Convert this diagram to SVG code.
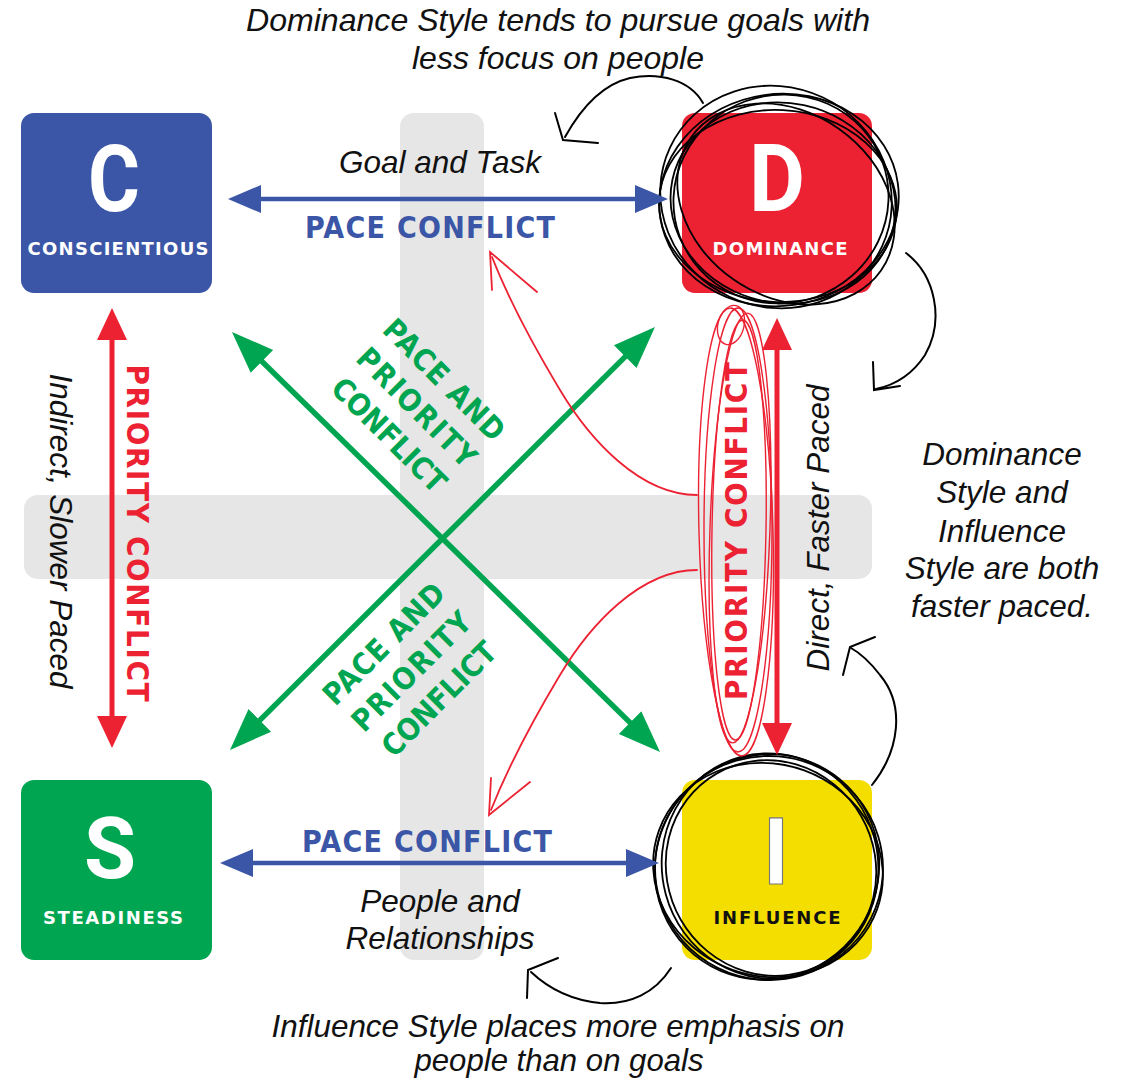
<svg xmlns="http://www.w3.org/2000/svg" width="1127" height="1081" viewBox="0 0 1127 1081">
<style>
.band{fill:#e6e6e6}
.box-letter{font-family:Roboto,'DejaVu Sans',sans-serif;font-weight:bold;text-anchor:middle}
.box-label{font-family:'DejaVu Sans',sans-serif;font-weight:bold;font-size:18px;text-anchor:middle}
.lbl{font-family:'DejaVu Sans Condensed','DejaVu Sans',sans-serif;font-stretch:condensed;font-weight:bold;text-anchor:middle}
.note{font-family:'Liberation Sans',Arial,sans-serif;font-style:italic;font-size:31.5px;fill:#111;text-anchor:middle}
.blue{stroke:#3b56a6;stroke-width:4.5;fill:none}
.red{stroke:#ec2233;stroke-width:5;fill:none}
.green{stroke:#00a551;stroke-width:5.5;fill:none}
.scrib{stroke:#000;stroke-width:1.8;fill:none}
.rscrib{stroke:#ec2233;stroke-width:1.4;fill:none}
.callout{stroke:#000;stroke-width:2;fill:none;stroke-linecap:round}
.rcallout{stroke:#ec2233;stroke-width:1.8;fill:none;stroke-linecap:round}
</style>
<defs>
<marker id="mBlue" markerUnits="userSpaceOnUse" viewBox="0 -15 33 30" markerWidth="33" markerHeight="30" refX="8" refY="0" orient="auto-start-reverse"><path d="M0,-14 L33,0 L0,14 z" fill="#3b56a6"/></marker>
<marker id="mRed" markerUnits="userSpaceOnUse" viewBox="0 -16 32 32" markerWidth="32" markerHeight="32" refX="8" refY="0" orient="auto-start-reverse"><path d="M0,-15 L32,0 L0,15 z" fill="#ec2233"/></marker>
<marker id="mGreen" markerUnits="userSpaceOnUse" viewBox="0 -17 42 34" markerWidth="42" markerHeight="34" refX="10" refY="0" orient="auto-start-reverse"><path d="M0,-16 L42,0 L0,16 z" fill="#00a551"/></marker>
</defs>

<g id="background-bands">
<rect class="band" x="400" y="113" width="84" height="847" rx="14"/>
<rect class="band" x="24" y="495" width="848" height="84" rx="14"/>
</g>

<g id="node-C">
<rect x="21" y="113" width="191" height="180" rx="13" fill="#3b56a6"/>
<text class="box-letter" x="114" y="211" font-size="92" fill="#fff" textLength="52" lengthAdjust="spacingAndGlyphs">C</text>
<text class="box-label" x="118" y="255" fill="#fff" textLength="181" lengthAdjust="spacing">CONSCIENTIOUS</text>
</g>

<g id="node-D">
<rect x="682" y="113" width="190" height="180" rx="13" fill="#ec2233"/>
<text class="box-letter" x="777" y="211" font-size="94" fill="#fff" textLength="56" lengthAdjust="spacingAndGlyphs">D</text>
<text class="box-label" x="780" y="255" fill="#fff" textLength="135" lengthAdjust="spacing">DOMINANCE</text>
</g>

<g id="node-S">
<rect x="21" y="780" width="191" height="180" rx="13" fill="#00a551"/>
<text class="box-letter" x="110" y="878" font-size="86" fill="#fff" textLength="52" lengthAdjust="spacingAndGlyphs">S</text>
<text class="box-label" x="113" y="924" font-size="19" fill="#fff" textLength="140" lengthAdjust="spacing">STEADINESS</text>
</g>

<g id="node-I">
<rect x="682" y="780" width="190" height="180" rx="13" fill="#f4de00"/>
<text class="box-letter" x="776" y="884" font-size="93" fill="#fff" stroke="#777" stroke-width="1.2" textLength="26" lengthAdjust="spacingAndGlyphs">I</text>
<text class="box-label" x="777" y="924" font-size="19" fill="#111" textLength="127" lengthAdjust="spacing">INFLUENCE</text>
</g>

<g id="scribbles">
<g id="scribble-D">
<ellipse class="scrib" cx="779" cy="200" rx="120" ry="106" transform="rotate(-8 779 200)"/>
<ellipse class="scrib" cx="783" cy="203" rx="113" ry="100" transform="rotate(12 783 203)"/>
<ellipse class="scrib" cx="776" cy="197" rx="117" ry="110" transform="rotate(25 776 197)"/>
<ellipse class="scrib" cx="781" cy="199" rx="108" ry="104" transform="rotate(-20 781 199)"/>
<ellipse class="scrib" cx="778" cy="206" rx="119" ry="96" transform="rotate(3 778 206)"/>
<ellipse class="scrib" cx="786" cy="204" rx="116" ry="92" transform="rotate(35 786 204)"/>
</g>
<g id="scribble-I">
<ellipse class="scrib" cx="769" cy="868" rx="114" ry="112" transform="rotate(5 769 868)"/>
<ellipse class="scrib" cx="770" cy="866" rx="108" ry="113" transform="rotate(-15 770 866)"/>
<ellipse class="scrib" cx="768" cy="870" rx="116" ry="106" transform="rotate(20 768 870)"/>
<ellipse class="scrib" cx="771" cy="868" rx="104" ry="109" transform="rotate(-30 771 868)"/>
<ellipse class="scrib" cx="767" cy="867" rx="111" ry="114" transform="rotate(40 767 867)"/>
</g>
<g id="scribble-priority">
<ellipse class="rscrib" cx="738" cy="530" rx="34" ry="222"/>
<ellipse class="rscrib" cx="740" cy="528" rx="30" ry="215" transform="rotate(2 740 528)"/>
<ellipse class="rscrib" cx="736" cy="532" rx="37" ry="224" transform="rotate(-1.5 736 532)"/>
<ellipse class="rscrib" cx="739" cy="530" rx="27" ry="210" transform="rotate(1 739 530)"/>
<ellipse class="rscrib" cx="731" cy="325" rx="13" ry="20" transform="rotate(15 731 325)"/>
</g>
</g>

<g id="connectors">
<line id="C-D" class="blue" x1="253" y1="199" x2="643" y2="199" marker-start="url(#mBlue)" marker-end="url(#mBlue)"/>
<line id="S-I" class="blue" x1="245" y1="863" x2="634" y2="863" marker-start="url(#mBlue)" marker-end="url(#mBlue)"/>
<line id="C-S" class="red" x1="112" y1="332" x2="112" y2="724" marker-start="url(#mRed)" marker-end="url(#mRed)"/>
<line id="D-I" class="red" x1="777" y1="342" x2="777" y2="731" marker-start="url(#mRed)" marker-end="url(#mRed)"/>
<line id="C-I" class="green" x1="254.8" y1="354.4" x2="637.2" y2="729.6" marker-start="url(#mGreen)" marker-end="url(#mGreen)"/>
<line id="D-S" class="green" x1="632.3" y1="349.6" x2="252.7" y2="727.4" marker-start="url(#mGreen)" marker-end="url(#mGreen)"/>
</g>

<g id="connector-labels">
<text class="lbl" x="430" y="238" font-size="30" fill="#3b56a6" textLength="250" lengthAdjust="spacing">PACE CONFLICT</text>
<text class="lbl" x="427" y="852" font-size="30" fill="#3b56a6" textLength="250" lengthAdjust="spacing">PACE CONFLICT</text>
<text class="lbl" transform="translate(127,533) rotate(90)" x="0" y="0" font-size="31" fill="#ec2233" textLength="337" lengthAdjust="spacing">PRIORITY CONFLICT</text>
<text class="lbl" transform="translate(747,531) rotate(-90)" x="0" y="0" font-size="31" fill="#ec2233" textLength="338" lengthAdjust="spacing">PRIORITY CONFLICT</text>
<g transform="translate(417,407) rotate(45)" fill="#00a551">
<text class="lbl" x="0" y="-28" font-size="30" textLength="158" lengthAdjust="spacing">PACE AND</text>
<text class="lbl" x="0" y="11" font-size="30" textLength="155" lengthAdjust="spacing">PRIORITY</text>
<text class="lbl" x="0" y="50" font-size="30" textLength="148" lengthAdjust="spacing">CONFLICT</text>
</g>
<g transform="translate(411,671) rotate(-45)" fill="#00a551">
<text class="lbl" x="0" y="-28" font-size="30" textLength="158" lengthAdjust="spacing">PACE AND</text>
<text class="lbl" x="0" y="11" font-size="30" textLength="155" lengthAdjust="spacing">PRIORITY</text>
<text class="lbl" x="0" y="50" font-size="30" textLength="148" lengthAdjust="spacing">CONFLICT</text>
</g>
<text class="note" x="440" y="173">Goal and Task</text>
<text class="note" x="440" y="912">People and</text>
<text class="note" x="440" y="949">Relationships</text>
<text class="note" transform="translate(829,528) rotate(-90)" x="0" y="0">Direct, Faster Paced</text>
<text class="note" transform="translate(50,531) rotate(90)" x="0" y="0">Indirect, Slower Paced</text>
</g>

<g id="annotations">
<text class="note" x="558" y="31" font-size="32" textLength="624" lengthAdjust="spacingAndGlyphs">Dominance Style tends to pursue goals with</text>
<text class="note" x="558" y="69" font-size="32" textLength="292" lengthAdjust="spacingAndGlyphs">less focus on people</text>
<text class="note" x="1002" y="465">Dominance</text>
<text class="note" x="1002" y="503">Style and</text>
<text class="note" x="1002" y="542">Influence</text>
<text class="note" x="1002" y="579">Style are both</text>
<text class="note" x="1002" y="617">faster paced.</text>
<text class="note" x="558" y="1037" font-size="32" textLength="573" lengthAdjust="spacingAndGlyphs">Influence Style places more emphasis on</text>
<text class="note" x="559" y="1071" font-size="32" textLength="289" lengthAdjust="spacingAndGlyphs">people than on goals</text>
</g>

<g id="callout-arrows">
<path class="callout" d="M703,103 C690,80 660,72 630,78 C600,85 580,110 565,137"/>
<path class="callout" d="M555,113 L563,140 L598,143"/>
<path class="callout" d="M906,253 C935,275 945,320 925,355 C912,375 895,385 876,389"/>
<path class="callout" d="M873,362 L874,390 L900,386"/>
<path class="callout" d="M872,785 C900,750 905,705 880,675 C870,662 860,653 851,648"/>
<path class="callout" d="M843,675 L850,647 L875,637"/>
<path class="callout" d="M671,968 C655,993 630,1005 600,1003 C570,1000 548,988 531,972"/>
<path class="callout" d="M527,998 L528,970 L558,958"/>
<path class="rcallout" d="M697,495 C640,495 590,440 560,390 C530,340 505,290 492,257"/>
<path class="rcallout" d="M492,290 L490,252 L537,292"/>
<path class="rcallout" d="M697,570 C640,570 590,625 560,675 C530,725 505,775 491,810"/>
<path class="rcallout" d="M491,778 L489,815 L530,782"/>
</g>
</svg>
